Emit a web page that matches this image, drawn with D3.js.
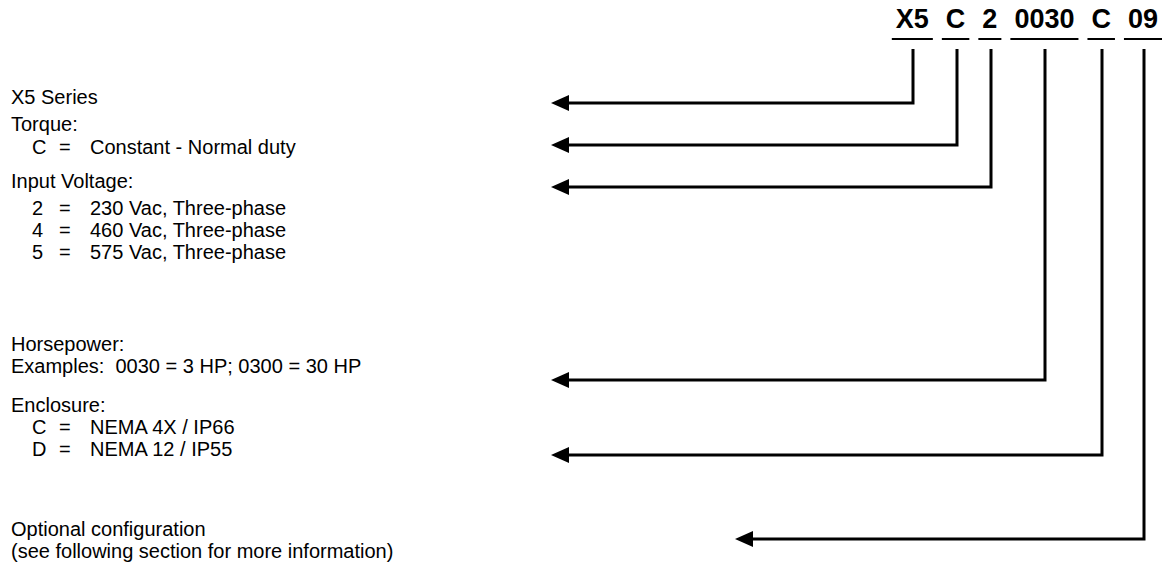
<!DOCTYPE html>
<html>
<head>
<meta charset="utf-8">
<script src="https://cdn.jsdelivr.net/npm/d3@7.9.0/dist/d3.min.js"></script>
<style>
  html, body { margin: 0; background: #fff; }
  svg { display: block; font-family: "Liberation Sans", Arial, sans-serif; }
</style>
</head>
<body>
<svg id="chart" width="1168" height="577"></svg>
<script>
// model number parts, left to right
const codeParts = ['X5', 'C', '2', '0030', 'C', '09'];

const sectionTitles = [
  'X5 Series',
  'Torque:',
  'Input Voltage:',
  'Horsepower:',
  'Enclosure:',
  'Optional configuration',
];

// [code, meaning] rows per section (empty when the section is plain text)
const seriesCodes = [];
const torqueCodes = [['C', 'Constant - Normal duty']];
const voltageCodes = [
  ['2', '230 Vac, Three-phase'],
  ['4', '460 Vac, Three-phase'],
  ['5', '575 Vac, Three-phase'],
];
const horsepowerNotes = ['Examples:  0030 = 3 HP; 0300 = 30 HP'];
const enclosureCodes = [
  ['C', 'NEMA 4X / IP66'],
  ['D', 'NEMA 12 / IP55'],
];
const optionalNotes = ['(see following section for more information)'];

// ---- layout ----
const lineH = 22;
const firstBaseline = 104;
const sectionSpace = [0, 27, 34, 92, 39, 80]; // title baseline distance from previous section's last line
const titleGap = [22, 23, 27, 22, 22, 22];    // title baseline to its first line

const sections = [
  { title: sectionTitles[0], rows: seriesCodes, notes: [] },
  { title: sectionTitles[1], rows: torqueCodes, notes: [] },
  { title: sectionTitles[2], rows: voltageCodes, notes: [] },
  { title: sectionTitles[3], rows: [], notes: horsepowerNotes },
  { title: sectionTitles[4], rows: enclosureCodes, notes: [] },
  { title: sectionTitles[5], rows: [], notes: optionalNotes },
];

// baseline of every line, computed from the spacing rules
let y = firstBaseline;
sections.forEach((s, i) => {
  if (i > 0) y += sectionSpace[i];
  s.titleY = y;
  s.lines = [];
  const items = s.rows.map((r) => ({ code: r[0], text: r[1] }))
    .concat(s.notes.map((n) => ({ note: n })));
  items.forEach((it, j) => {
    y += j === 0 ? titleGap[i] : lineH;
    s.lines.push({ y, ...it });
  });
});

// which line of which section each arrow points at
const arrowAnchors = [
  { sec: 0, y: (s) => s.titleY - 1, tip: 551 },
  { sec: 1, y: (s) => s.lines[0].y - 9, tip: 551 },
  { sec: 2, y: (s) => s.titleY - 1, tip: 551 },
  { sec: 3, y: (s) => s.lines[0].y + 7, tip: 551 },
  { sec: 4, y: (s) => s.lines[1].y - 1, tip: 551 },
  { sec: 5, y: (s) => s.titleY + 3, tip: 735 },
];

const svg = d3.select('#chart');

// left column text
const left = svg.append('g').attr('font-size', 20).attr('fill', '#000');
sections.forEach((s) => {
  left.append('text').attr('x', 11).attr('y', s.titleY).text(s.title);
  s.lines.forEach((l) => {
    if (l.note) {
      left.append('text').attr('x', 11).attr('y', l.y).attr('xml:space', 'preserve').text(l.note);
    } else {
      left.append('text').attr('x', 32).attr('y', l.y).text(l.code);
      left.append('text').attr('x', 59).attr('y', l.y).text('=');
      left.append('text').attr('x', 90).attr('y', l.y).text(l.text);
    }
  });
});

// model code across the top right
const codeGap = 17;
const codeG = svg.append('g')
  .attr('font-size', 27)
  .attr('font-weight', 'bold');

const codeTexts = codeG.selectAll('text')
  .data(codeParts)
  .join('text')
  .attr('y', 28)
  .text((d) => d);

const widths = [];
codeTexts.each(function () { widths.push(this.getComputedTextLength()); });
const totalW = d3.sum(widths) + codeGap * (codeParts.length - 1);
const x0 = 1158 - totalW;
const codeX = widths.map((w, i) => x0 + d3.sum(widths.slice(0, i)) + codeGap * i);
const xScale = d3.scaleOrdinal().domain(d3.range(codeParts.length)).range(codeX);

codeTexts.attr('x', (d, i) => xScale(i));

const pad = 4;
codeG.selectAll('line')
  .data(codeParts)
  .join('line')
  .attr('x1', (d, i) => xScale(i) - pad)
  .attr('x2', (d, i) => xScale(i) + widths[i] + pad)
  .attr('y1', 39)
  .attr('y2', 39)
  .attr('stroke', '#000')
  .attr('stroke-width', 2);

// elbow arrows from each code part back to its description
const arrows = svg.append('g');
const headL = 18, headH = 8;
codeParts.forEach((p, i) => {
  const a = arrowAnchors[i];
  const ay = Math.round(a.y(sections[a.sec]));
  const vx = Math.round(xScale(i) + widths[i] / 2) + 1;
  arrows.append('path')
    .attr('d', `M${vx},49 V${ay} H${a.tip + headL - 2}`)
    .attr('fill', 'none')
    .attr('stroke', '#000')
    .attr('stroke-width', 3)
    .attr('stroke-linejoin', 'miter');
  arrows.append('path')
    .attr('d', `M${a.tip},${ay} L${a.tip + headL},${ay - headH} L${a.tip + headL},${ay + headH} Z`)
    .attr('fill', '#000');
});
</script>
</body>
</html>
